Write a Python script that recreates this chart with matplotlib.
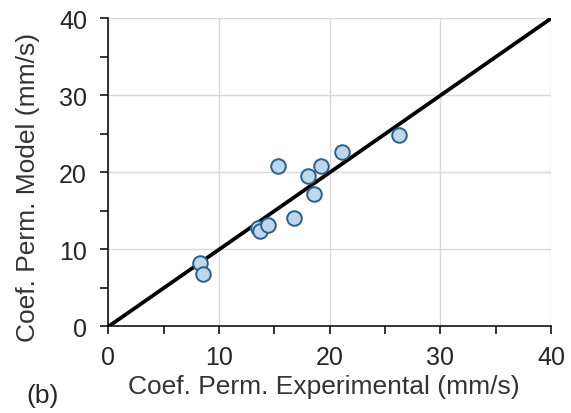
import matplotlib
matplotlib.use("Agg")
import matplotlib.pyplot as plt
from matplotlib.ticker import MultipleLocator

plt.rcParams['font.family'] = ['Liberation Sans', 'DejaVu Sans']

exp_vals = [8.3, 8.5, 13.5, 13.7, 14.4, 15.3, 16.8, 18.0, 18.55, 19.2, 21.15, 26.3]
model_vals = [8.25, 6.8, 12.75, 12.45, 13.2, 20.9, 14.05, 19.6, 17.2, 20.9, 22.7, 24.9]
line_x = [0, 40]
line_y = [0, 40]
ticks = [0, 10, 20, 30, 40]

fig = plt.figure(figsize=(5.71, 4.14), dpi=100)
ax = fig.add_axes([0.190, 0.209, 0.775, 0.744])

ax.plot(line_x, line_y, color='black', lw=2.7, zorder=2, solid_capstyle='butt')
ax.scatter(exp_vals, model_vals, s=110, facecolor='#BDD7EE', edgecolor='#2E5F8A',
           linewidth=1.4, zorder=3)

ax.set_xlim(0, 40)
ax.set_ylim(0, 40)
ax.set_xticks(ticks)
ax.set_yticks(ticks)
ax.xaxis.set_minor_locator(MultipleLocator(5))
ax.yaxis.set_minor_locator(MultipleLocator(5))
ax.grid(True, which='major', color='#D9D9D9', lw=1.0, zorder=0)
ax.set_axisbelow(True)
for s in ['top', 'right']:
    ax.spines[s].set_visible(False)
for s in ['left', 'bottom']:
    ax.spines[s].set_color('black')
    ax.spines[s].set_linewidth(1.1)
ax.tick_params(which='both', direction='out', length=5.5, width=1.1, color='black',
               labelsize=18, labelcolor='#262626')
ax.tick_params(axis='y', pad=10)
ax.tick_params(axis='x', pad=8)
ax.set_xlabel('Coef. Perm. Experimental (mm/s)', fontsize=19, color='#333333')
ax.xaxis.set_label_coords(0.486, -0.192)
ax.xaxis.label.set_va('center')
ax.set_ylabel('Coef. Perm. Model (mm/s)', fontsize=19, color='#333333')
ax.yaxis.set_label_coords(-0.183, 0.4545)
ax.yaxis.label.set_va('center')
fig.text(0.0455, 0.073, '(b)', fontsize=19, color='#262626', ha='left', va='top')

fig.savefig('out.png', dpi=100)
